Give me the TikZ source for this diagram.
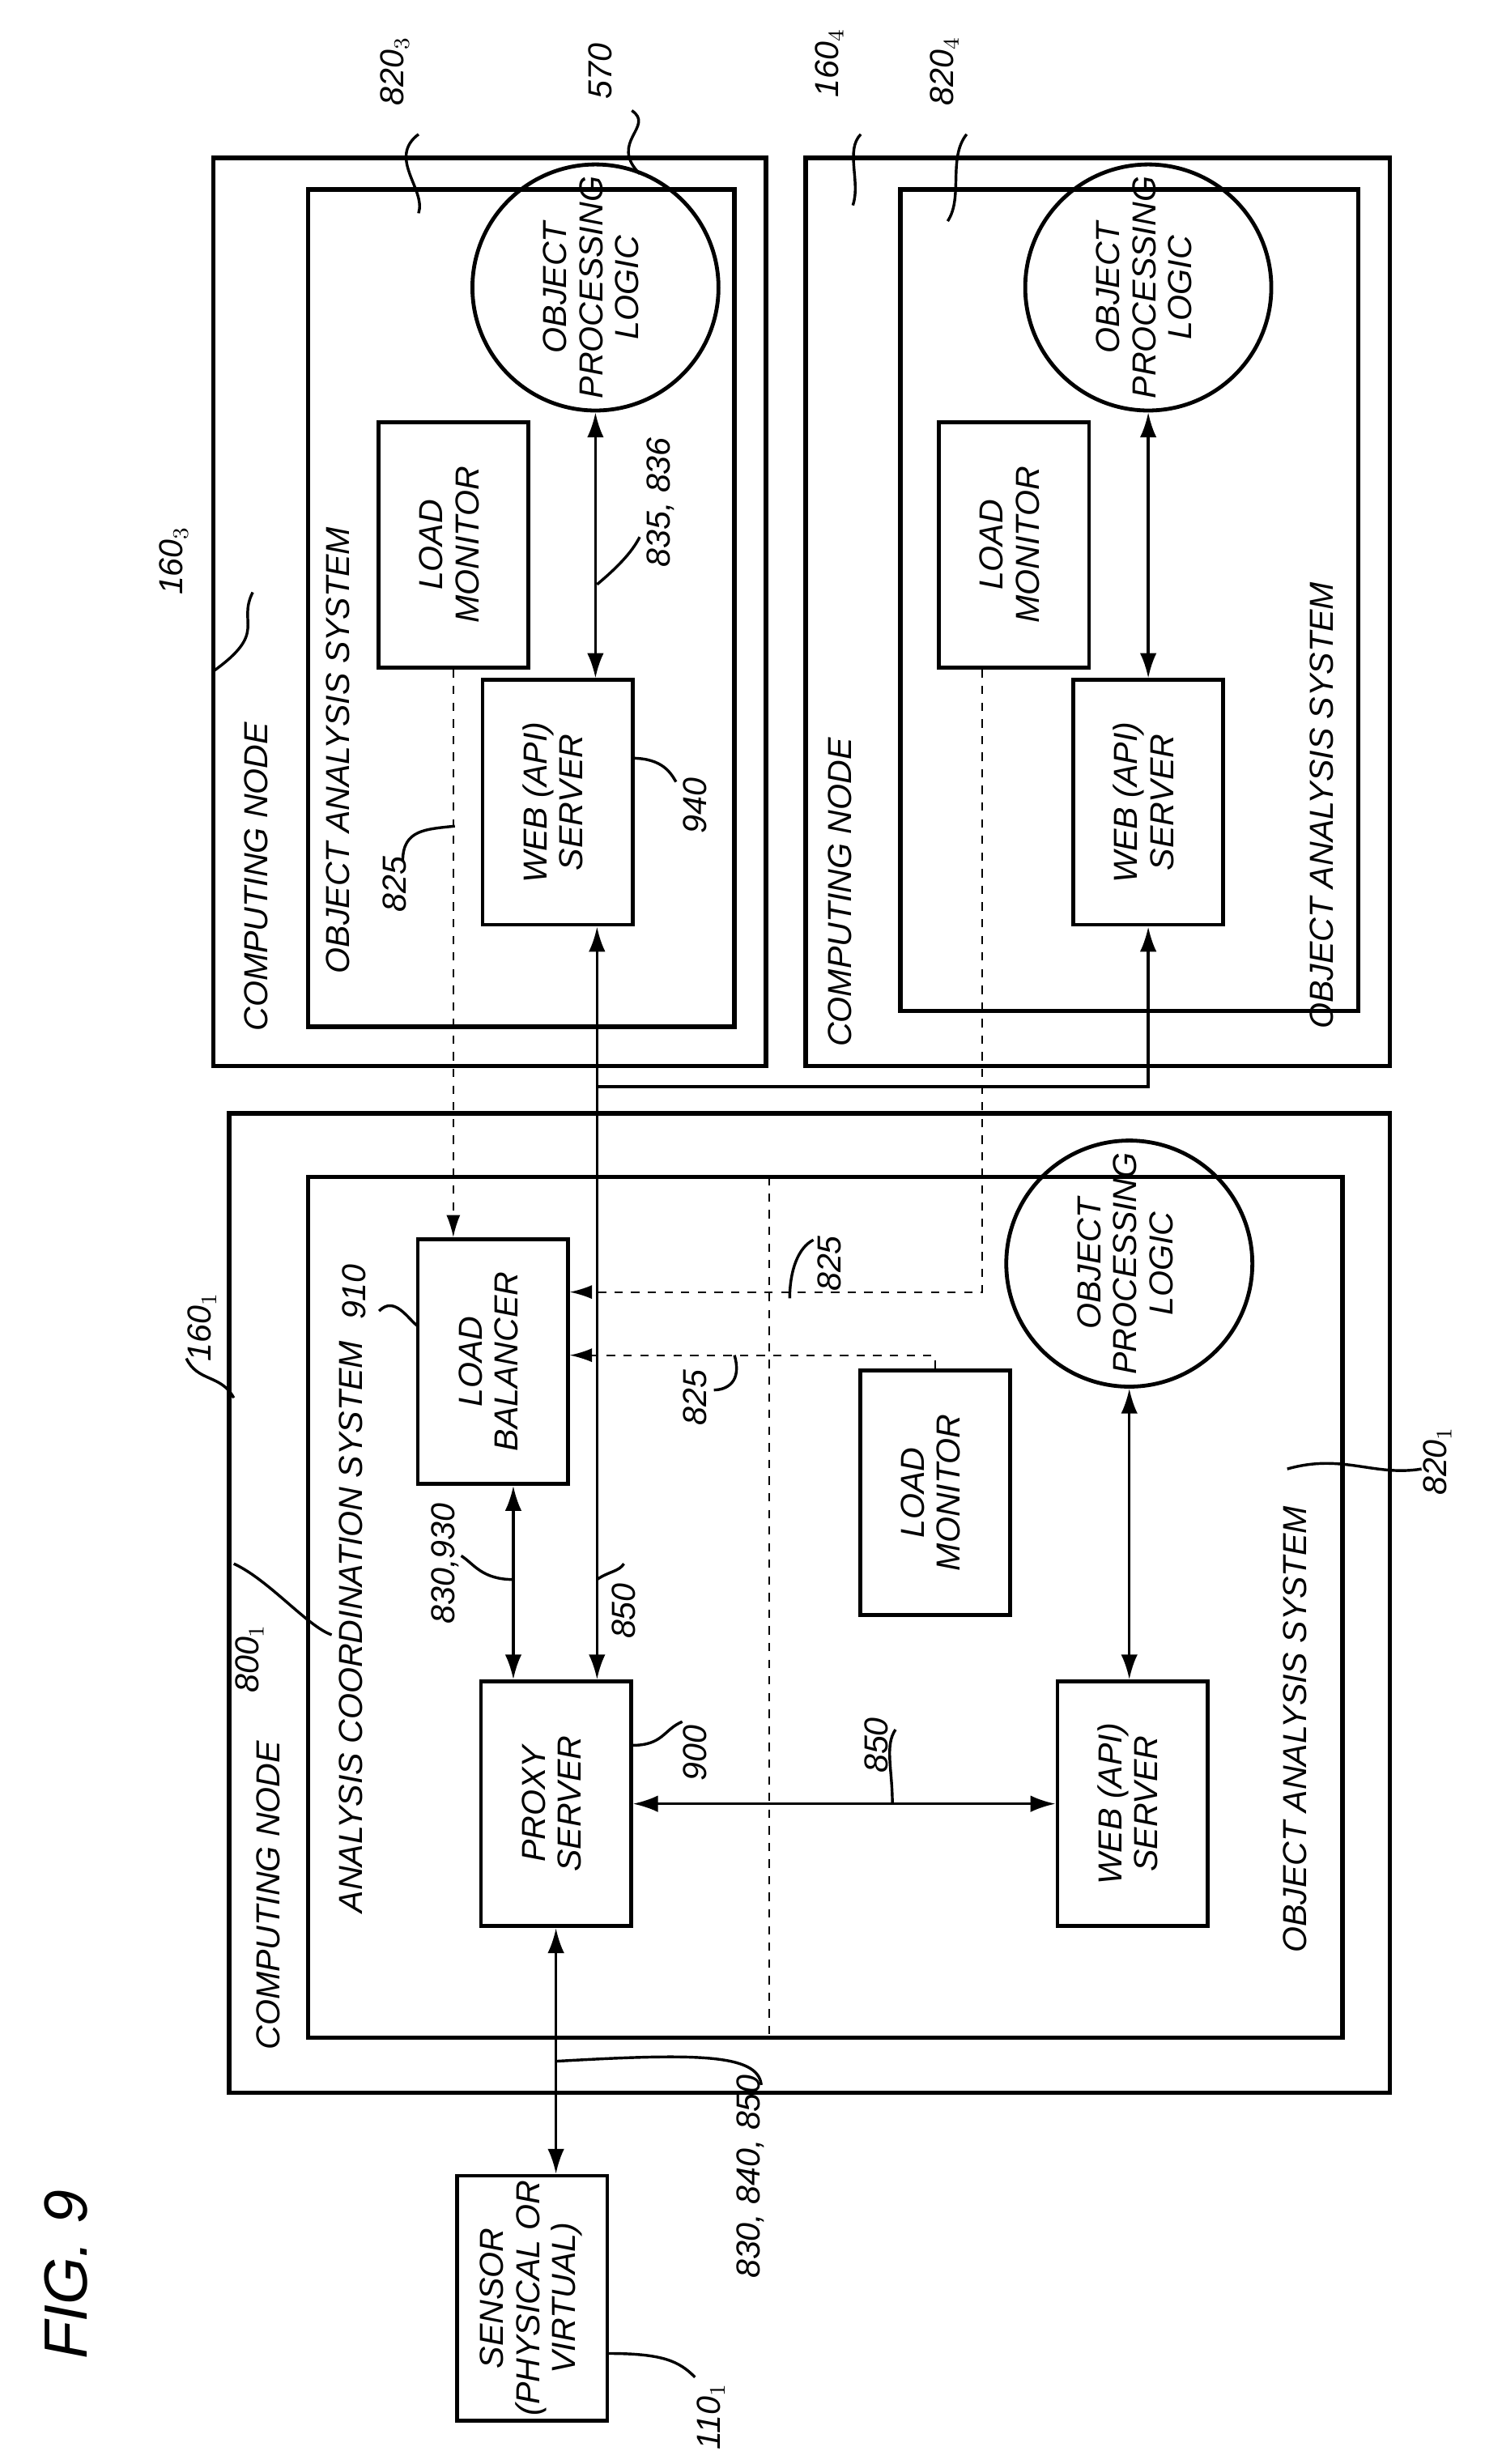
\documentclass[tikz,border=0pt]{standalone}
\usepackage{fontspec}
\setmainfont{Liberation Sans}
\usetikzlibrary{arrows.meta,calc}
\newcommand{\rt}[1]{\rotatebox{90}{\begin{tabular}{@{}c@{}}#1\end{tabular}}}
\begin{document}
\begin{tikzpicture}[x=0.02cm, y=-0.02cm, font=\fontsize{12}{13}\selectfont\itshape,
    line join=miter,
    frame/.style={line width=1.6pt},
    box/.style={draw, line width=1.4pt, minimum width=1.9cm, minimum height=3.1cm, inner sep=0pt},
    logic/.style={draw, circle, line width=1.4pt, minimum size=2.6cm, inner sep=0pt},
    dbl/.style={{Latex[length=9pt,width=6pt]}-{Latex[length=9pt,width=6pt]}, line width=1pt},
    sgl/.style={-{Latex[length=9pt,width=6pt]}, line width=1pt},
    load/.style={dashed, line width=0.6pt, -{Latex[length=8pt,width=5pt]}},
    lead/.style={line width=1pt},
    num/.style={rotate=90, inner sep=1pt}]
    \useasboundingbox (0,0) rectangle (940,1560);
    % computing node 160_3
    \draw[frame] (135,100) rectangle (485,675);
    \draw[frame] (195,120) rectangle (465,650);
    \node[rotate=90] (cn3) at (162,555) {COMPUTING NODE};
    \node[rotate=90] (oas3) at (214,475) {OBJECT ANALYSIS SYSTEM};
    \node[logic] (opl3) at (377,182) {\rt{OBJECT\\PROCESSING\\LOGIC}};
    \node[box] (lm3) at (287,345) {\rt{LOAD\\MONITOR}};
    \node[box] (web3) at (353,508) {\rt{WEB (API)\\SERVER}};
    % computing node 160_4
    \draw[frame] (510,100) rectangle (880,675);
    \draw[frame] (570,120) rectangle (860,640);
    \node[rotate=90] (cn4) at (532,565) {COMPUTING NODE};
    \node[rotate=90] (oas4) at (837,510) {OBJECT ANALYSIS SYSTEM};
    \node[logic] (opl4) at (727,182) {\rt{OBJECT\\PROCESSING\\LOGIC}};
    \node[box] (lm4) at (642,345) {\rt{LOAD\\MONITOR}};
    \node[box] (web4) at (727,508) {\rt{WEB (API)\\SERVER}};
    % computing node 160_1
    \draw[frame] (145,705) rectangle (880,1325);
    \draw[frame] (195,745) rectangle (850,1290);
    \draw[dashed, line width=0.6pt] (487,745) -- (487,1290);
    \node[rotate=90] (cn1) at (170,1200) {COMPUTING NODE};
    \node[rotate=90] (acs) at (222,1030) {ANALYSIS COORDINATION SYSTEM};
    \node[rotate=90] (oas1) at (820,1095) {OBJECT ANALYSIS SYSTEM};
    \node[box] (lb) at (312,862) {\rt{LOAD\\BALANCER}};
    \node[box] (proxy) at (352,1142) {\rt{PROXY\\SERVER}};
    \node[box] (lm1) at (592,945) {\rt{LOAD\\MONITOR}};
    \node[logic] (opl1) at (715,800) {\rt{OBJECT\\PROCESSING\\LOGIC}};
    \node[box] (web1) at (717,1142) {\rt{WEB (API)\\SERVER}};
    \node[box] (sensor) at (337,1455) {\rt{SENSOR\\(PHYSICAL OR\\VIRTUAL)}};
    \node[rotate=90, font=\fontsize{22}{24}\selectfont\itshape] (fig) at (42,1440) {FIG. 9};
    % data paths
    \coordinate (x850) at (378,0);
    \coordinate (x830) at (325,0);
    \coordinate (x825) at (622,0);
    \draw[dbl] (x850 |- proxy.north) -- (x850 |- web3.south);
    \draw[sgl] (x850 |- 0,688) -- (web4.south |- 0,688) -- (web4.south);
    \draw[dbl] (x830 |- lb.south) -- (x830 |- proxy.north);
    \draw[dbl] (proxy.south) -- (proxy.south |- sensor.north);
    \draw[dbl] (proxy.east) -- (web1.west);
    \draw[dbl] (web1.north -| opl1.south) -- (opl1.south);
    \draw[dbl] (web3.north -| opl3.south) -- (opl3.south);
    \draw[dbl] (web4.north -| opl4.south) -- (opl4.south);
    % load reports
    \draw[load] (lm3.south) -- (lm3.south |- lb.north);
    \draw[load] (x825 |- lm4.south) -- (x825 |- 0,818) -- (lb.east |- 0,818);
    \draw[load] (lm1.north) -- (lm1.north |- 0,858) -- (lb.east |- 0,858);
    % reference numerals
    \node[num] (n1603) at (110,355) {160$_3$};
    \draw[lead] (160,375) .. controls (150,395) and (170,400) .. (135,425);
    \node[num] (n8203) at (250,45) {820$_3$};
    \draw[lead] (265,85) .. controls (245,100) and (270,120) .. (265,135);
    \node[num] (n570) at (380,45) {570};
    \draw[lead] (400,70) .. controls (415,80) and (385,90) .. (405,110);
    \node[num] (n1604) at (525,40) {160$_4$};
    \draw[lead] (545,85) .. controls (535,95) and (545,115) .. (540,130);
    \node[num] (n8204) at (598,45) {820$_4$};
    \draw[lead] (612,85) .. controls (600,100) and (610,125) .. (600,140);
    \node[num] (n835) at (418,318) {835, 836};
    \draw[lead] (378,370) .. controls (390,360) and (400,350) .. (405,340);
    \node[num] (n825a) at (250,560) {825};
    \draw[lead] (288,523) .. controls (270,525) and (255,525) .. (255,545);
    \node[num] (n940) at (440,510) {940};
    \draw[lead] (400,480) .. controls (420,480) and (425,490) .. (428,495);
    \node[num] (n825b) at (525,800) {825};
    \draw[lead] (500,822) .. controls (500,805) and (505,790) .. (515,785);
    \node[num] (n825c) at (440,885) {825};
    \draw[lead] (465,858) .. controls (470,875) and (460,880) .. (452,880);
    \node[num] (n910) at (224,818) {910};
    \draw[lead] (240,830) .. controls (250,820) and (258,835) .. (265,840);
    \node[num] (n850a) at (395,1020) {850};
    \draw[lead] (378,1000) .. controls (385,995) and (392,995) .. (395,990);
    \node[num] (n830) at (282,990) {830,930};
    \draw[lead] (325,1000) .. controls (305,1000) and (300,990) .. (292,985);
    \node[num] (n8001) at (158,1050) {800$_1$};
    \draw[lead] (148,990) .. controls (170,1000) and (195,1030) .. (210,1035);
    \node[num] (n1601) at (128,840) {160$_1$};
    \draw[lead] (118,860) .. controls (125,875) and (140,870) .. (148,885);
    \node[num] (n8201) at (910,925) {820$_1$};
    \draw[lead] (815,930) .. controls (850,920) and (870,935) .. (900,930);
    \node[num] (n900) at (440,1110) {900};
    \draw[lead] (400,1105) .. controls (420,1105) and (420,1095) .. (432,1090);
    \node[num] (n850b) at (555,1105) {850};
    \draw[lead] (565,1142) .. controls (565,1120) and (560,1105) .. (567,1095);
    \node[num] (n830b) at (475,1378) {830, 840, 850};
    \draw[lead] (352,1305) .. controls (440,1300) and (480,1300) .. (482,1320);
    \node[num] (n1101) at (450,1530) {110$_1$};
    \draw[lead] (385,1490) .. controls (420,1490) and (430,1495) .. (440,1505);
\end{tikzpicture}
\end{document}
